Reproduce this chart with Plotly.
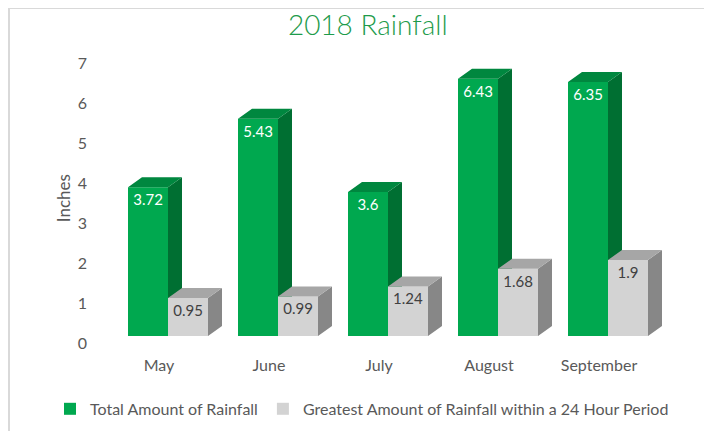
import plotly.graph_objects as go

months = ["May", "June", "July", "August", "September"]
total_rain = [3.72, 5.43, 3.6, 6.43, 6.35]
max_24h = [0.95, 0.99, 1.24, 1.68, 1.9]
y_ticks = [0, 1, 2, 3, 4, 5, 6, 7]

# geometry of the fake 3D bars (in axis units)
bar_w = 40 / 110
dx = 14 / 110
dy = 10 / 40

green = "#00A84F"
green_side = "#006F32"
green_top = "#00873F"
grey = "#D3D3D3"
grey_side = "#878787"
grey_top = "#A6A6A6"
font_grey = "#595959"


def faces(centers, values, floor):
    # floor: where the side face starts (hidden part behind the bar in front)
    top_x, top_y, side_x, side_y = [], [], [], []
    for c, v, f in zip(centers, values, floor):
        xl, xr = c - bar_w / 2, c + bar_w / 2
        top_x += [xl, xl + dx, xr + dx, xr, xl, None]
        top_y += [v, v + dy, v + dy, v, v, None]
        side_x += [xr, xr, xr + dx, xr + dx, xr, None]
        side_y += [f, v, v + dy, f + dy if f == 0 else f, f, None]
    return top_x, top_y, side_x, side_y


idx = list(range(len(months)))
green_x = [i - bar_w / 2 for i in idx]
grey_x = [i + bar_w / 2 for i in idx]

fig = go.Figure()

for xs, vals, flo, side_c, top_c in [(green_x, total_rain, max_24h, green_side, green_top),
                                     (grey_x, max_24h, [0] * len(max_24h), grey_side, grey_top)]:
    tx, ty, sx, sy = faces(xs, vals, flo)
    fig.add_trace(go.Scatter(x=sx, y=sy, fill="toself", mode="lines", line=dict(width=0),
                             fillcolor=side_c, showlegend=False, hoverinfo="skip"))
    fig.add_trace(go.Scatter(x=tx, y=ty, fill="toself", mode="lines", line=dict(width=0),
                             fillcolor=top_c, showlegend=False, hoverinfo="skip"))

fig.add_trace(go.Bar(
    x=green_x, y=total_rain, width=bar_w, name="Total Amount of Rainfall",
    marker=dict(color=green, line=dict(width=0)),
    text=[str(v) for v in total_rain], textposition="inside", insidetextanchor="end",
    textangle=0, insidetextfont=dict(color="white", size=15),
))
fig.add_trace(go.Bar(
    x=grey_x, y=max_24h, width=bar_w, name="Greatest Amount of Rainfall within a 24 Hour Period",
    marker=dict(color=grey, line=dict(width=0)),
    text=[str(v) for v in max_24h], textposition="inside", insidetextanchor="end",
    textangle=0, insidetextfont=dict(color="#404040", size=15),
))

# the page body adds an 8px offset, so the figure is 8px smaller than the window
fig.update_layout(
    width=704, height=423,
    margin=dict(l=100, r=44, t=28, b=95, autoexpand=False),
    paper_bgcolor="white", plot_bgcolor="white",
    barmode="overlay",
    font=dict(family="Lato", color=font_grey, size=16),
    title=dict(text="2018 Rainfall", x=0.511, xanchor="center", y=0.9598, yanchor="middle",
               font=dict(family="Lato", size=28, color="#1E9B4B", weight=300)),
    xaxis=dict(range=[-6 / 11, 50 / 11], tickvals=idx, ticktext=months,
               showgrid=False, zeroline=False, showline=False, ticks="",
               ticklabelshift=-9, ticklabelstandoff=18),
    yaxis=dict(range=[0, 7.5], tickvals=y_ticks, showgrid=False, zeroline=False,
               showline=False, ticks="", ticklabelshift=7, ticklabelstandoff=20),
    legend=dict(orientation="h", x=-0.1036, xanchor="left", y=-0.243, yanchor="middle",
                font=dict(size=16, color=font_grey), itemwidth=30, traceorder="normal",
                tracegroupgap=0),
    showlegend=True,
)

fig.add_annotation(text="Inches", textangle=-90, xref="paper", yref="paper",
                   x=-0.08, y=0.46, xanchor="center", yanchor="middle", showarrow=False,
                   font=dict(size=17, color=font_grey))

# light chart frame along top and left edges
fig.add_shape(type="line", xref="paper", yref="paper", x0=-0.1768, y0=1.0933, x1=1.2, y1=1.0933,
              line=dict(color="#D9D9D9", width=2))
fig.add_shape(type="line", xref="paper", yref="paper", x0=-0.1768, y0=1.0933, x1=-0.1768, y1=-0.4,
              line=dict(color="#D9D9D9", width=2))

fig.write_html("out.html")
